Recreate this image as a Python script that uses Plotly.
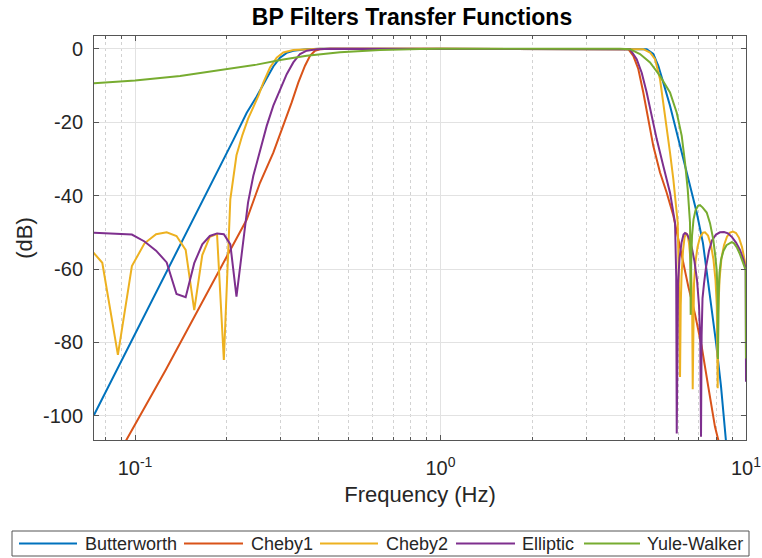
import math
import plotly.graph_objects as go

# ---- magnitude responses (frequency in Hz, magnitude in dB) ----
butter_f = [0.0734, 0.1120, 0.1514, 0.2099, 0.2321, 0.2502, 0.2698, 0.2836, 0.2983, 0.3137,
            0.3297, 0.3647, 0.4032, 1.0, 3.87, 4.731, 4.973, 5.164, 5.362, 5.640,
            5.933, 6.235, 6.557, 6.897, 7.232, 7.595, 7.976, 8.283, 8.646, 9.0]
butter_db = [-99.8, -69.7, -48.3, -24.8, -17.4, -13.0, -8.0, -4.8, -2.4, -1.1,
             -0.5, -0.1, 0.0, 0.0, 0.0, -0.1, -1.4, -4.6, -9.2, -15.5,
             -22.8, -30.1, -37.4, -44.6, -53.0, -66.0, -80.0, -92.0, -106.6, -125.0]

cheby1_f = [0.0734, 0.0934, 0.1260, 0.2321, 0.2565, 0.2836, 0.3057, 0.3257, 0.3423, 0.3601,
            0.3739, 0.3882, 0.4032, 0.4348, 1.0, 3.87, 4.119, 4.277, 4.441, 4.611,
            4.788, 4.973, 5.231, 5.501, 5.782, 6.160, 6.474, 6.809, 7.162, 7.527,
            7.916, 8.115, 8.345]
cheby1_db = [-122.3, -106.6, -87.5, -46.5, -36.5, -28.3, -21.0, -14.6, -9.2, -4.6,
             -1.9, -0.5, -0.1, 0.0, 0.0, 0.0, -0.1, -1.9, -5.5, -11.9,
             -19.2, -26.5, -33.7, -39.2, -45.4, -56.6, -64.8, -72.3, -81.2, -92.1,
             -103.0, -106.6, -115.0]

cheby2_f = [0.06836, 0.07813, 0.08789, 0.09766, 0.10742, 0.11719, 0.12695, 0.13672, 0.14648, 0.15625,
            0.16602, 0.17578, 0.18555, 0.19531, 0.20508, 0.21484, 0.22461, 0.23438, 0.24414, 0.25391,
            0.2630, 0.2766, 0.2909, 0.3057, 0.3297, 0.3647, 0.4032, 1.0, 3.87, 4.611,
            4.851, 5.037, 5.231, 5.362, 5.501, 5.640, 5.782, 5.901, 5.977, 6.045,
            6.082, 6.114, 6.151, 6.221, 6.291, 6.363, 6.435, 6.508, 6.582, 6.642,
            6.667, 6.692, 6.718, 6.758, 6.835, 6.939, 7.071, 7.232, 7.342, 7.510,
            7.681, 7.827, 7.946, 8.024, 8.079, 8.115, 8.189, 8.314, 8.472, 8.666,
            8.864, 9.067, 9.275, 9.487, 9.703, 9.925, 10.0]
cheby2_db = [-52.7, -58.3, -83.4, -59.2, -53.0, -50.5, -50.0, -51.0, -54.8, -71.2,
             -56.2, -51.2, -50.5, -84.8, -41.0, -29.0, -23.5, -19.1, -15.8, -12.6,
             -9.2, -5.1, -2.4, -1.0, -0.3, -0.1, 0.0, 0.0, 0.0, -0.1,
             -1.0, -2.8, -8.3, -14.6, -21.0, -28.3, -35.5, -41.9, -47.4, -68.4,
             -89.4, -70.0, -62.0, -55.0, -51.5, -50.2, -50.8, -53.0, -57.5, -65.0,
             -72.0, -92.8, -72.0, -64.0, -58.0, -54.0, -51.3, -50.1, -50.0, -50.9,
             -53.5, -57.5, -63.0, -70.0, -92.5, -72.0, -63.0, -57.0, -53.5, -51.2,
             -50.1, -49.8, -50.2, -51.5, -54.0, -57.5, -59.4]

elliptic_f = [0.06836, 0.07813, 0.08789, 0.09766, 0.10742, 0.11719, 0.12695, 0.13672, 0.14648, 0.15625,
              0.16602, 0.17578, 0.18555, 0.19531, 0.20508, 0.21484, 0.22461, 0.23438, 0.2439, 0.2565,
              0.2698, 0.2836, 0.2983, 0.3137, 0.3297, 0.3468, 0.3647, 0.3933, 0.4348, 1.0,
              3.87, 4.172, 4.387, 4.556, 4.731, 4.913, 5.102, 5.362, 5.640, 5.857,
              5.910, 5.933, 5.955, 5.991, 6.059, 6.151, 6.244, 6.315, 6.411, 6.533,
              6.657, 6.784, 6.913, 7.018, 7.087, 7.124, 7.157, 7.205, 7.287, 7.398,
              7.567, 7.739, 7.976, 8.220, 8.472, 8.731, 8.999, 9.275, 9.558, 9.814,
              9.977, 10.0]
elliptic_db = [-50.0, -50.2, -50.3, -50.6, -52.5, -55.0, -58.2, -66.8, -67.7, -58.4,
               -53.3, -51.0, -50.3, -50.5, -53.3, -67.5, -54.4, -41.9, -34.6, -27.4,
               -21.0, -15.5, -11.0, -6.9, -3.7, -1.4, -0.5, -0.1, 0.0, 0.0,
               0.0, -0.1, -2.8, -6.5, -11.9, -18.3, -24.6, -31.9, -39.2, -47.4,
               -62.0, -104.8, -75.0, -64.0, -57.0, -52.8, -50.6, -50.2, -50.5, -52.0,
               -54.5, -58.0, -63.0, -70.0, -80.0, -105.7, -78.0, -68.0, -64.0, -59.5,
               -55.0, -52.2, -50.6, -50.0, -49.9, -50.3, -51.3, -52.8, -54.8, -57.5,
               -60.0, -90.7]

yule_f = [0.0734, 0.1, 0.1404, 0.2011, 0.2502, 0.3021, 0.3647, 0.4690, 0.6338, 0.8568,
          1.0, 3.87, 4.172, 4.498, 4.851, 5.231, 5.640, 5.933, 6.160, 6.315,
          6.445, 6.557, 6.582, 6.592, 6.617, 6.657, 6.733, 6.835, 6.965, 7.071,
          7.205, 7.287, 7.437, 7.624, 7.815, 7.934, 8.018, 8.073, 8.097, 8.128,
          8.189, 8.283, 8.440, 8.633, 8.831, 8.979, 9.136, 9.345, 9.558, 9.777,
          9.977, 10.0]
yule_db = [-9.4, -8.6, -7.4, -5.6, -4.3, -3.0, -1.9, -0.9, -0.3, -0.05,
           0.0, 0.0, -0.1, -1.4, -3.7, -7.4, -11.9, -17.4, -23.7, -31.0,
           -38.3, -47.4, -60.0, -72.5, -58.0, -51.0, -46.5, -44.0, -42.8, -42.6,
           -43.2, -43.6, -44.6, -47.5, -52.0, -56.5, -60.3, -67.0, -84.5, -68.0,
           -61.0, -57.5, -55.0, -53.5, -52.9, -52.7, -53.0, -54.2, -56.0, -58.2,
           -60.3, -84.4]

names = ["Butterworth", "Cheby1", "Cheby2", "Elliptic", "Yule-Walker"]
freqs = [butter_f, cheby1_f, cheby2_f, elliptic_f, yule_f]
mags = [butter_db, cheby1_db, cheby2_db, elliptic_db, yule_db]
colors = ["#0072BD", "#D95319", "#EDB120", "#7E2F8E", "#77AC30"]

x_ticks = [0.1, 1, 10]
x_tick_text = ["10<sup>-1</sup>", "10<sup>0</sup>", "10<sup>1</sup>"]
x_minor = [0.08, 0.09, 0.2, 0.3, 0.4, 0.5, 0.6, 0.7, 0.8, 0.9,
           2, 3, 4, 5, 6, 7, 8, 9]
y_ticks = [-100, -80, -60, -40, -20, 0]
y_tick_text = ["-100", "-80", "-60", "-40", "-20", "0"]

FONT = "Liberation Sans, Arial, Helvetica, sans-serif"
INK = "#262626"
FRAME = "#555555"

# figure geometry (pixels)
W, H = 762, 558
ML, MR, MT, MB = 94, 16, 36, 118
PW, PH = W - ML - MR, H - MT - MB


def paper_x(px):
    return (px - ML) / PW


def paper_y(py):
    return (H - MB - py) / PH


fig = go.Figure()
for name, f, db, c in zip(names, freqs, mags, colors):
    fig.add_trace(go.Scatter(x=f, y=db, mode="lines", name=name,
                             line=dict(color=c, width=2), showlegend=False))

fig.update_xaxes(
    type="log", range=[math.log10(0.0734), 1.0], automargin=False,
    tickmode="array", tickvals=x_ticks, ticktext=x_tick_text,
    tickfont=dict(size=20, color=INK, family=FONT),
    ticks="inside", ticklen=5, tickcolor=FRAME, ticklabelstandoff=10,
    showline=True, linecolor=FRAME, linewidth=1, mirror="allticks",
    showgrid=True, gridcolor="#e2e2e2", gridwidth=1, zeroline=False,
    minor=dict(tickmode="array", tickvals=x_minor, ticks="inside", ticklen=3,
               tickcolor=FRAME, showgrid=True, gridcolor="#d2d2d2",
               griddash="dot", gridwidth=1),
    title=dict(text="Frequency (Hz)", font=dict(size=22, color=INK, family=FONT),
               standoff=8),
)
fig.update_yaxes(
    range=[-106.6, 3.5], automargin=False,
    tickmode="array", tickvals=y_ticks, ticktext=y_tick_text,
    tickfont=dict(size=20, color=INK, family=FONT),
    ticks="inside", ticklen=5, tickcolor=FRAME, ticklabelstandoff=6,
    showline=True, linecolor=FRAME, linewidth=1, mirror="allticks",
    showgrid=True, gridcolor="#e2e2e2", gridwidth=1, zeroline=False,
    title=dict(text="(dB)", font=dict(size=22, color=INK, family=FONT), standoff=4),
)

# legend drawn as a boxed row beneath the axes
legend_line_x = [(19, 77), (184, 243), (320, 378), (456, 515), (584, 640)]
legend_text_x = [83, 249, 384, 520, 645]
legend_y = 543.5
shapes = [dict(type="rect", xref="paper", yref="paper",
               x0=paper_x(12), x1=paper_x(749), y0=paper_y(556), y1=paper_y(531),
               line=dict(color=FRAME, width=1), fillcolor="white", layer="above")]
annotations = []
for name, c, (lx0, lx1), tx in zip(names, colors, legend_line_x, legend_text_x):
    shapes.append(dict(type="line", xref="paper", yref="paper",
                       x0=paper_x(lx0), x1=paper_x(lx1),
                       y0=paper_y(legend_y), y1=paper_y(legend_y),
                       line=dict(color=c, width=2)))
    annotations.append(dict(text=name, xref="paper", yref="paper",
                            x=paper_x(tx), y=paper_y(legend_y),
                            xanchor="left", yanchor="middle", showarrow=False,
                            font=dict(size=18, color=INK, family=FONT)))

fig.update_layout(
    width=W, height=H,
    margin=dict(l=ML, r=MR, t=MT, b=MB, autoexpand=False),
    paper_bgcolor="white", plot_bgcolor="white",
    font=dict(family=FONT, color=INK),
    title=dict(text="<b>BP Filters Transfer Functions</b>",
               font=dict(size=23, color="black", family=FONT),
               x=paper_x(412), xref="paper", xanchor="center",
               y=1 - 17 / H, yref="container", yanchor="middle"),
    shapes=shapes, annotations=annotations,
    showlegend=False,
)

fig.write_html("out.html")
